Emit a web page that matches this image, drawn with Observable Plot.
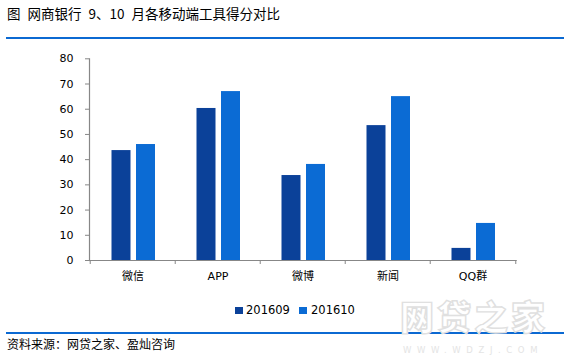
<!DOCTYPE html>
<html>
<head>
<meta charset="utf-8">
<script src="https://cdn.jsdelivr.net/npm/d3@7"></script>
<script src="https://cdn.jsdelivr.net/npm/@observablehq/plot@0.6"></script>
<style>
  html, body { margin: 0; padding: 0; background: #fff; }
  #root { position: relative; width: 572px; height: 363px; overflow: hidden; font-family: "Noto Sans CJK SC", sans-serif; color: #000; }
  .abs { position: absolute; }
  #title { left: 7px; top: 3px; font-size: 13.5px; line-height: 20px; white-space: pre; word-spacing: 4px; }
  .rule { background: #0b69d2; height: 2px; left: 6px; width: 558px; }
  #chart { left: 0; top: 45px; }
  #legend { top: 302px; left: 0; width: 572px; height: 16px; font-family: "DejaVu Sans", "Noto Sans CJK SC", sans-serif; font-size: 11.5px; }
  .sw { position: absolute; width: 7.5px; height: 7.5px; top: 4.7px; }
  .lt { position: absolute; top: 0; line-height: 16px; }
  #footer { left: 7px; top: 335px; font-size: 12px; line-height: 18px; white-space: nowrap; }
  #wm { left: 400px; top: 294px; font-size: 34px; font-weight: 900; color: #fff; letter-spacing: 3px; line-height: 44px;
        -webkit-text-stroke: 1.4px #e0e0e0; white-space: nowrap; }
  #wm2 { left: 403px; top: 344px; font-family: "DejaVu Sans", sans-serif; font-size: 8.5px; color: #e4e4e4; letter-spacing: 5.6px; line-height: 12px; white-space: nowrap; }
</style>
</head>
<body>
<div id="root">
  <div id="title" class="abs">图 网商银行 9、10 月各移动端工具得分对比</div>
  <div class="abs rule" style="top:37px"></div>
  <div id="chart" class="abs"></div>
  <div id="legend" class="abs"></div>
  <div class="abs rule" style="top:332px"></div>
  <div id="footer" class="abs">资料来源：网贷之家、盈灿咨询</div>
  <div id="wm" class="abs">网贷之家</div>
  <div id="wm2" class="abs">WWW.WDZJ.COM</div>
</div>
<script>
const categories = ["微信", "APP", "微博", "新闻", "QQ群"];
const series = ["201609", "201610"];
const values201609 = [43.6, 60.3, 33.7, 53.5, 4.8];
const values201610 = [46.0, 67.0, 38.1, 65.0, 14.7];
const yTicks = [0, 10, 20, 30, 40, 50, 60, 70, 80];
const colors = ["#0b4199", "#0b6bd4"];

const data = [];
categories.forEach((c, i) => {
  data.push({category: c, series: series[0], value: values201609[i]});
  data.push({category: c, series: series[1], value: values201610[i]});
});

const W = 572, H = 250, ML = 89, MR = 55.3, MT = 13.3, MB = 35;
const bw = (W - ML - MR) / categories.length;
const axisGray = "#878787";
const numFont = "DejaVu Sans, Noto Sans CJK SC, sans-serif";

const chart = Plot.plot({
  width: W,
  height: H,
  marginLeft: ML,
  marginRight: MR,
  marginTop: MT,
  marginBottom: MB,
  style: {fontFamily: numFont, fontSize: "11px", color: "#000", background: "transparent"},
  x: {domain: categories, padding: 0, axis: null},
  y: {domain: [0, 80], axis: null},
  color: {domain: series, range: colors},
  marks: [
    Plot.barY(data.filter(d => d.series === series[0]), {x: "category", y: "value", fill: "series", insetLeft: 21.5, insetRight: 44.5}),
    Plot.barY(data.filter(d => d.series === series[1]), {x: "category", y: "value", fill: "series", insetLeft: 46, insetRight: 20}),
    Plot.ruleY([0], {stroke: axisGray, strokeWidth: 1.2}),
    Plot.frame({anchor: "left", stroke: axisGray, strokeWidth: 1.2}),
    Plot.axisY({ticks: yTicks, label: null, tickSize: 4, tickPadding: 12, stroke: axisGray, strokeOpacity: 1, fill: "#000", fontSize: 11, tickFormat: d => String(d)}),
    Plot.axisX({ticks: categories, label: null, tickSize: 4, tickFormat: () => "", dx: -bw / 2, stroke: axisGray, strokeOpacity: 1}),
    Plot.axisX({ticks: [categories[categories.length - 1]], label: null, tickSize: 4, tickFormat: () => "", dx: bw / 2, stroke: axisGray, strokeOpacity: 1}),
    Plot.axisX({ticks: categories, label: null, tickSize: 0, tickPadding: 12, fill: "#000", fontSize: 11})
  ]
});
document.getElementById("chart").appendChild(chart);

const legend = document.getElementById("legend");
const legendPos = [{sw: 235, tx: 246}, {sw: 299, tx: 311}];
series.forEach((s, i) => {
  const sw = document.createElement("div");
  sw.className = "sw";
  sw.style.left = legendPos[i].sw + "px";
  sw.style.background = colors[i];
  legend.appendChild(sw);
  const t = document.createElement("div");
  t.className = "lt";
  t.style.left = legendPos[i].tx + "px";
  t.textContent = s;
  legend.appendChild(t);
});
</script>
</body>
</html>
